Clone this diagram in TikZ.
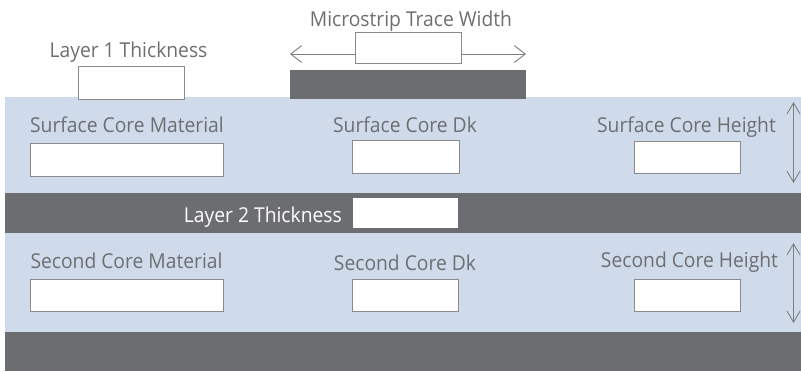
\documentclass[tikz,border=0pt]{standalone}
\usepackage{fontspec}
\setmainfont{Open Sans}
\newfontfamily\lblfont[FakeStretch=0.94]{Open Sans}
\usetikzlibrary{arrows.meta}
\definecolor{coreblue}{HTML}{CFDBEA}
\definecolor{metal}{HTML}{6C6D71}
\definecolor{txtgray}{HTML}{6D6E71}
\definecolor{boxgray}{HTML}{8B8B8B}
\definecolor{arrgray}{HTML}{7F7F7F}
\tikzset{
  lbl/.style={font=\lblfont\fontsize{20.5}{24}\selectfont, text=txtgray, inner sep=0pt},
  wlbl/.style={lbl, text=white},
  inbox/.style={draw=boxgray, line width=1pt, fill=white, inner sep=0pt},
  wbox/.style={fill=white, inner sep=0pt},
  dim/.style={draw=arrgray, line width=0.9pt, -{Straight Barb[length=11pt,width=17pt]}},
  dimboth/.style={draw=arrgray, line width=0.9pt, {Straight Barb[length=11pt,width=13pt]}-{Straight Barb[length=11pt,width=13pt]}},
}
\begin{document}
\begin{tikzpicture}[x=1pt,y=-1pt]
\useasboundingbox (0,0) rectangle (801,372);
% bands
\fill[coreblue] (5,97) rectangle (801,193);
\fill[metal] (5,193) rectangle (801,233);
\fill[coreblue] (5,233) rectangle (801,332);
\fill[metal] (5,332) rectangle (801,371);
% trace
\fill[metal] (290,70) rectangle (526,99);
% top labels
\node[lbl, anchor=base] (l1t) at (128.5,57) {Layer 1 Thickness};
\node[inbox, minimum width=106pt, minimum height=33pt] (l1b) at (131,82.5) {};
\node[lbl, anchor=base] (mtw) at (411,26) {Microstrip Trace Width};
\node[inbox, minimum width=106pt, minimum height=31pt] (mtb) at (408,48) {};
\coordinate (mtl) at (290,54);
\coordinate (mtr) at (526,54);
\draw[dim] (mtb.west |- mtl) -- (mtl);
\draw[dim] (mtb.east |- mtr) -- (mtr);
% surface core
\node[lbl, anchor=base] (scm) at (127,132) {Surface Core Material};
\node[inbox, minimum width=193pt, minimum height=33pt] (scmb) at (126.5,159.5) {};
\node[lbl, anchor=base] (scd) at (405,132) {Surface Core Dk};
\node[inbox, minimum width=107pt, minimum height=33pt] (scdb) at (405.5,156.5) {};
\node[lbl, anchor=base] (sch) at (686.5,132) {Surface Core Height};
\node[inbox, minimum width=106pt, minimum height=32pt] (schb) at (687,157) {};
\coordinate (scht) at (793.5,102);
\coordinate (schbot) at (793.5,183);
\draw[dimboth] (scht) -- (schbot);
% layer 2
\node[wlbl, anchor=base east] (l2t) at (342,222) {Layer 2 Thickness};
\node[wbox, minimum width=105pt, minimum height=30pt] (l2b) at (405.5,213) {};
% second core
\node[lbl, anchor=base] (ccm) at (126.5,268) {Second Core Material};
\node[inbox, minimum width=193pt, minimum height=32pt] (ccmb) at (126.5,295) {};
\node[lbl, anchor=base] (ccd) at (405,270) {Second Core Dk};
\node[inbox, minimum width=106pt, minimum height=32pt] (ccdb) at (405,295) {};
\node[lbl, anchor=base] (cch) at (689.5,267.5) {Second Core Height};
\node[inbox, minimum width=106pt, minimum height=32pt] (cchb) at (687,295) {};
\coordinate (ccht) at (793.5,243);
\coordinate (cchbot) at (793.5,323);
\draw[dimboth] (ccht) -- (cchbot);
\end{tikzpicture}
\end{document}
